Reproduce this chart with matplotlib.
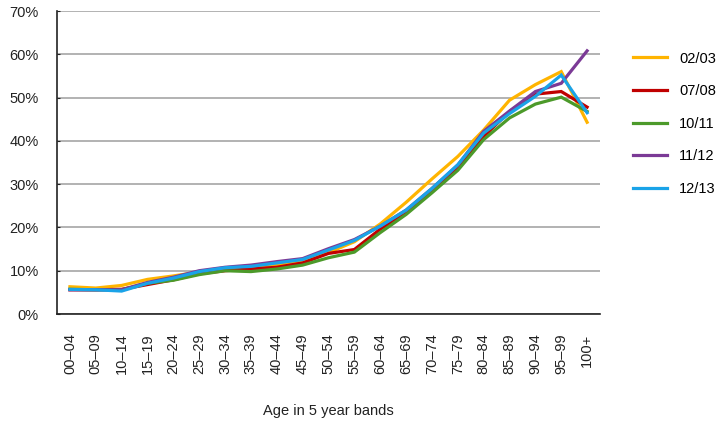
import numpy as np
import matplotlib.pyplot as plt

plt.rcParams['font.family'] = ['Liberation Sans', 'DejaVu Sans']

# Age bands on the x axis
bands = ["00\u201304", "05\u201309", "10\u201314", "15\u201319", "20\u201324", "25\u201329",
         "30\u201334", "35\u201339", "40\u201344", "45\u201349", "50\u201354", "55\u201359",
         "60\u201364", "65\u201369", "70\u201374", "75\u201379", "80\u201384", "85\u201389",
         "90\u201394", "95\u201399", "100+"]

# Percentages per year
y0203 = [6.3, 6.0, 6.6, 8.0, 8.8, 9.7, 10.2, 10.8, 11.2, 12.2, 14.2, 16.7,
         20.8, 25.8, 31.2, 36.4, 42.5, 49.4, 53.0, 56.0, 44.3]
y0708 = [5.6, 5.6, 5.7, 6.8, 7.9, 9.3, 10.0, 10.4, 10.8, 11.8, 14.0, 14.9,
         19.6, 23.4, 28.6, 34.0, 41.0, 46.8, 50.8, 51.4, 47.8]
y1011 = [5.7, 5.6, 5.6, 7.1, 7.8, 9.1, 10.0, 9.8, 10.4, 11.3, 13.0, 14.3,
         18.8, 23.0, 28.0, 33.2, 40.3, 45.3, 48.5, 50.1, 46.8]
y1112 = [5.6, 5.6, 5.6, 7.3, 8.5, 10.0, 10.8, 11.3, 12.1, 12.8, 15.1, 17.2,
         20.3, 24.0, 29.0, 34.4, 42.2, 46.9, 51.4, 53.3, 60.8]
y1213 = [5.7, 5.6, 5.3, 7.1, 8.3, 9.8, 10.7, 11.0, 11.8, 12.6, 14.8, 17.0,
         20.3, 24.0, 29.0, 34.5, 41.8, 46.3, 50.3, 55.2, 46.5]

series = [("02/03", y0203, "#FFB400"),
          ("07/08", y0708, "#C00000"),
          ("10/11", y1011, "#4C9A2A"),
          ("11/12", y1112, "#7B3A96"),
          ("12/13", y1213, "#1AA3E8")]

fig = plt.figure(figsize=(7.26, 4.22), dpi=100)
ax = fig.add_axes([0.0785, 0.2559, 0.748, 0.718])

x = np.arange(len(bands))
for name, vals, col in series:
    ax.plot(x, vals, color=col, lw=2.3, label=name, solid_joinstyle='miter')

ax.set_xlim(-0.5, len(bands) - 0.5)
ax.set_ylim(0, 70)
ax.set_yticks(range(0, 71, 10))
ax.set_yticklabels([f"{v}%" for v in range(0, 71, 10)])
ax.set_xticks(x)
ax.set_xticklabels(bands, rotation=90)

ax.grid(axis='y', color='#A6A6A6', lw=1.2)
ax.set_axisbelow(True)
for s in ['top', 'right']:
    ax.spines[s].set_visible(False)
ax.spines['left'].set_color('#222222')
ax.spines['bottom'].set_color('#222222')
ax.spines['left'].set_linewidth(1.2)
ax.spines['bottom'].set_linewidth(1.2)

ax.tick_params(axis='y', direction='in', length=2, pad=13, labelsize=10.5, colors='#222222')
ax.tick_params(axis='x', length=0, pad=14, labelsize=10.5, colors='#222222')
ax.set_xlabel("Age in 5 year bands", fontsize=10.5, color='#222222', labelpad=21)

fig.legend(loc='upper left', bbox_to_anchor=(0.862, 0.895), frameon=False,
           fontsize=10.5, handlelength=2.3, handletextpad=0.85, labelspacing=1.27,
           borderpad=0)

plt.savefig("out.png", dpi=100)
